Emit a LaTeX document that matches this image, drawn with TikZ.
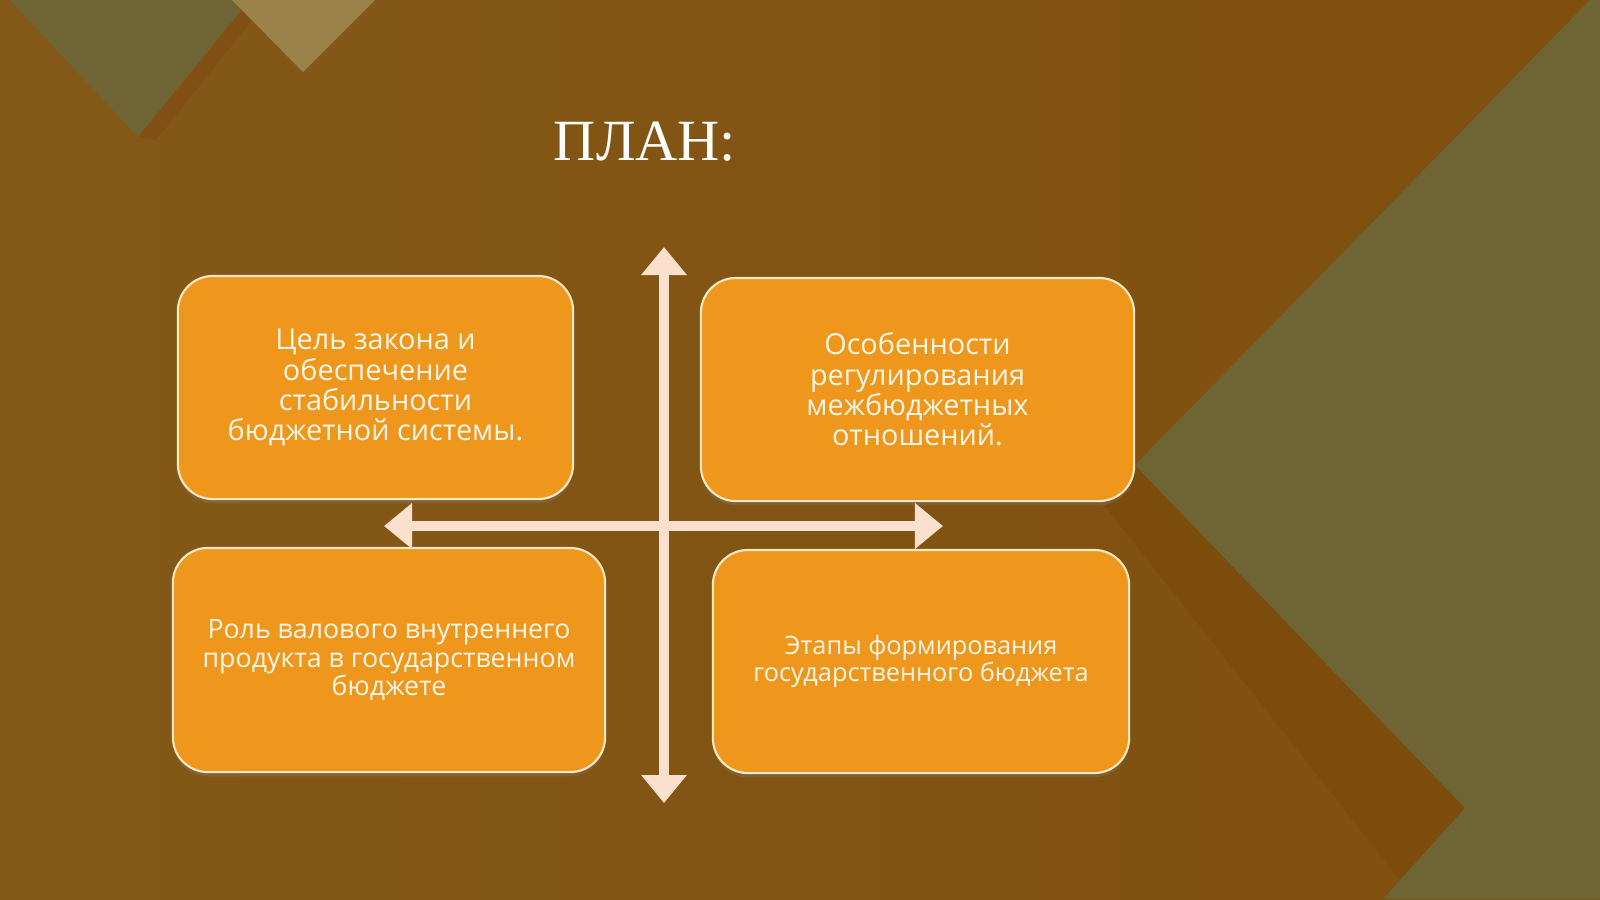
\documentclass[tikz,border=0pt]{standalone}
\usepackage{fontspec}
\setmainfont{Open Sans}
\newfontfamily\titlefont{Liberation Serif}
\usetikzlibrary{arrows.meta, shadows}
\definecolor{bg_left}{RGB}{132,89,24}
\definecolor{bg_right}{RGB}{127,79,14}
\definecolor{plan_olive}{RGB}{111,101,52}
\definecolor{plan_tan}{RGB}{156,131,74}
\definecolor{plan_band}{RGB}{124,76,12}
\definecolor{plan_stripe}{RGB}{130,80,20}
\definecolor{box_orange}{RGB}{239,151,29}
\definecolor{box_edge}{RGB}{255,232,196}
\definecolor{arrow_peach}{RGB}{251,224,206}
\definecolor{label_cream}{RGB}{255,246,232}
\tikzset{
	planbox/.style={draw=box_edge, line width=0.6pt, fill=box_orange, rounded corners=0.35cm,
		align=center, text=label_cream, inner sep=0pt,
		drop shadow={shadow xshift=0pt, shadow yshift=-1.2pt, opacity=0.3}},
	axis/.style={arrow_peach, line width=0.1cm,
		{Triangle[length=0.28cm,width=0.44cm]}-{Triangle[length=0.28cm,width=0.44cm]}}
}

\begin{document}
\begin{tikzpicture}[x=0.01cm,y=-0.01cm,line join=round]
		\useasboundingbox (0,0) rectangle (1600,899);
		% background
		\begin{scope}
		\shade[left color=bg_left, right color=bg_right] (0,0) rectangle (1600,899);
		\fill[plan_olive] (10,0) -- (250,0) -- (138,137) -- cycle;
		\fill[plan_stripe] (250,0) -- (268,0) -- (156,140) -- (138,137) -- cycle;
		\fill[plan_tan] (232,0) -- (375,0) -- (303,72) -- cycle;
		\fill[plan_band] (1135,460) -- (1465,808) -- (1400,880) -- (1100,500) -- cycle;
		\fill[plan_olive] (1590,0) -- (1600,0) -- (1600,899) -- (1383,899)
			-- (1465,808) -- (1135,465) -- cycle;
		\end{scope}
		\node[font=\titlefont\fontsize{16.6}{18}\selectfont, text=white, anchor=base] (title) at (645,160) {ПЛАН:};
		% boxes
		\begin{scope}[every node/.append style={font=\fontsize{8.2}{8.6}\selectfont}]
		\node[planbox, minimum width=3.95cm, minimum height=2.23cm] (goal) at (375.5,387.5)
			{Цель закона и\\обеспечение\\стабильности\\бюджетной системы.};
		\node[planbox, minimum width=4.33cm, minimum height=2.23cm] (relations) at (917.5,389.5)
			{Особенности\\регулирования\\межбюджетных\\отношений.};
		\end{scope}
		\node[planbox, font=\fontsize{7.6}{8.1}\selectfont, minimum width=4.32cm, minimum height=2.24cm] (gdp) at (389,660)
			{Роль валового внутреннего\\продукта в государственном\\бюджете};
		\node[planbox, font=\fontsize{7.2}{7.8}\selectfont, minimum width=4.16cm, minimum height=2.23cm] (stages) at (921,661.5)
			{Этапы формирования\\государственного бюджета};
		% axes
		\coordinate (left)   at (384,526);
		\coordinate (right)  at (943,526);
		\coordinate (top)    at (664,247);
		\coordinate (bottom) at (664,803);
		\draw[axis] (left) -- (right);
		\draw[axis] (bottom) -- (top);
	\end{tikzpicture}
\end{document}
